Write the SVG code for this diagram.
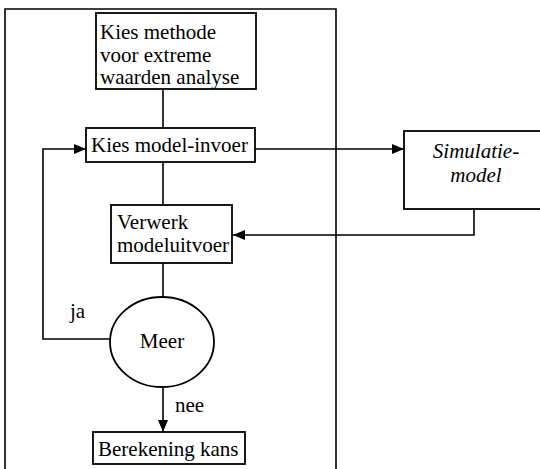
<svg xmlns="http://www.w3.org/2000/svg" width="540" height="469" viewBox="0 0 540 469">
<style>
  .box{fill:#fff;stroke:#000;stroke-width:1.8}
  .ln{fill:none;stroke:#000;stroke-width:1.6}
  .t{font-family:'Liberation Serif','DejaVu Serif','Times New Roman',Times,serif;font-size:21px;fill:#000}
  .i{font-style:italic}
</style>
<defs>
  <marker id="ah" viewBox="0 0 12 10" refX="12" refY="5" markerWidth="12" markerHeight="10" markerUnits="userSpaceOnUse" orient="auto">
    <path d="M0,0 L12,5 L0,10 Z" fill="#000"/>
  </marker>
</defs>
<rect width="540" height="469" fill="#fff"/>
<g id="frame">
  <path class="ln" d="M5,470 L5,9 L336,9 L336,470"/>
</g>
<g id="connectors">
  <line class="ln" x1="163" y1="89" x2="163" y2="128"/>
  <line class="ln" x1="163" y1="162" x2="163" y2="205"/>
  <line class="ln" x1="163" y1="263" x2="163" y2="297"/>
  <line class="ln" x1="255" y1="149" x2="404" y2="149" marker-end="url(#ah)"/>
  <polyline class="ln" points="474,209 474,235 233,235" marker-end="url(#ah)"/>
  <polyline class="ln" points="110,339 43,339 43,149 86,149" marker-end="url(#ah)"/>
  <line class="ln" x1="163" y1="387" x2="163" y2="432" marker-end="url(#ah)"/>
  <text class="t" x="70" y="318">ja</text>
  <text class="t" x="175" y="412">nee</text>
</g>
<g id="n1">
  <rect class="box" x="96" y="13" width="160" height="76"/>
  <text class="t" x="100" y="39">Kies methode</text>
  <text class="t" x="100" y="62">voor extreme</text>
  <text class="t" x="100" y="84">waarden analyse</text>
</g>
<g id="n2">
  <rect class="box" x="86" y="128" width="169" height="34"/>
  <text class="t" x="91" y="152">Kies model-invoer</text>
</g>
<g id="n3">
  <rect class="box" x="111" y="205" width="121" height="58"/>
  <text class="t" x="117" y="229">Verwerk</text>
  <text class="t" x="117" y="252">modeluitvoer</text>
</g>
<g id="n4">
  <ellipse class="box" cx="162" cy="342" rx="52" ry="45"/>
  <text class="t" x="162" y="348" text-anchor="middle">Meer</text>
</g>
<g id="n5">
  <rect class="box" x="93" y="432" width="152" height="32"/>
  <text class="t" x="98" y="456">Berekening kans</text>
</g>
<g id="n6">
  <rect class="box" x="404" y="131" width="140" height="78"/>
  <text class="t i" x="476" y="158" text-anchor="middle">Simulatie-</text>
  <text class="t i" x="476" y="182" text-anchor="middle">model</text>
</g>
</svg>
